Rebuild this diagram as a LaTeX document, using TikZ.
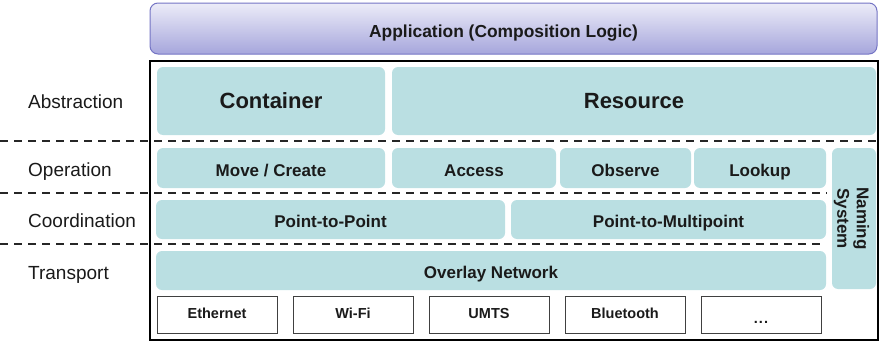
\documentclass[tikz,border=0pt]{standalone}
\usepackage{fontspec}
\setmainfont{Liberation Sans}
\usepackage{tikz}
\usetikzlibrary{positioning}
\definecolor{tealbox}{HTML}{BADFE2}
\definecolor{appedge}{HTML}{7474C4}
\definecolor{apptop}{HTML}{ECECF8}
\definecolor{appbot}{HTML}{A6A6DC}
\definecolor{ink}{HTML}{1A1A1A}

\tikzset{
    blk/.style={fill=tealbox, rounded corners=6pt, inner sep=0pt, text=ink,
        text height=16pt, text depth=0pt,
        font=\bfseries\fontsize{17}{19}\selectfont},
    bigblk/.style={blk, text height=14pt, font=\bfseries\fontsize{22}{24}\selectfont},
    phybox/.style={draw=black!75, line width=0.8pt, inner sep=0pt, text=ink,
        minimum width=120pt, minimum height=37pt, text height=8pt, text depth=0pt,
        font=\bfseries\fontsize{14.5}{16}\selectfont},
    rowlabel/.style={anchor=base west, inner sep=0pt, text=ink,
        font=\fontsize{19}{21}\selectfont},
    sep/.style={black!85, line width=1.5pt, dash pattern=on 8pt off 6pt}
}

\begin{document}
\begin{tikzpicture}[x=1pt,y=-1pt]
    \useasboundingbox (0,0) rectangle (879,343);

    % Application layer on top
    \node[draw=appedge, line width=1pt, rounded corners=8pt, top color=apptop,
          bottom color=appbot, minimum width=727pt, minimum height=51pt,
          inner sep=0pt, text=ink, text height=17pt, text depth=0pt,
          font=\bfseries\fontsize{17.4}{19}\selectfont]
          (app) at (513.5,28.5) {Application (Composition Logic)\hspace*{20pt}};

    % Frame around the stack
    \draw[black, line width=2pt] (150,61) rectangle (878,340);

    % Layer separators
    \draw[sep] (0,141) -- (879,141);
    \draw[sep] (0,193) -- (827,193);
    \draw[sep] (0,244) -- (823,244);

    % Layer names
    \node[rowlabel] (labs)  at (28,108.5) {Abstraction};
    \node[rowlabel] (lop)   at (28,176) {Operation};
    \node[rowlabel] (lcoor) at (28,227) {Coordination};
    \node[rowlabel] (ltr)   at (28,279) {Transport};

    % Abstraction
    \node[bigblk, minimum width=228pt, minimum height=68pt] (container) at (271,101) {Container};
    \node[bigblk, minimum width=484pt, minimum height=68pt] (resource) at (634,101) {Resource};

    % Operation
    \node[blk, minimum width=228pt, minimum height=40pt] (move)    at (271,168) {Move / Create};
    \node[blk, minimum width=164pt, minimum height=40pt] (access)  at (474,168) {Access};
    \node[blk, minimum width=131pt, minimum height=40pt] (observe) at (625.5,168) {Observe};
    \node[blk, minimum width=132pt, minimum height=40pt] (lookup)  at (760,168) {Lookup};

    % Naming system (spans three rows)
    \node[blk, minimum width=44pt, minimum height=141pt] (naming) at (854,218.5) {};
    \node[rotate=-90, align=center, inner sep=0pt, text=ink,
          font=\bfseries\fontsize{17}{19.5}\selectfont] (namingtxt) at ([xshift=-2.5pt]naming.center) {Naming\\System};

    % Coordination
    \node[blk, minimum width=349pt, minimum height=39pt] (p2p)  at (330.5,219.5) {Point-to-Point};
    \node[blk, minimum width=315pt, minimum height=39pt] (p2mp) at (668.5,219.5) {Point-to-Multipoint};

    % Transport
    \node[blk, minimum width=670pt, minimum height=39pt] (overlay) at (491,270.5) {Overlay Network};

    % Link technologies
    \foreach \name [count=\i from 0] in {Ethernet,Wi-Fi,UMTS,Bluetooth}{
        \node[phybox] (phy\i) at (217+136*\i,314.5) {\name};
    }
    \node[phybox] (phy4) at (761,314.5) {\raisebox{-4.5pt}{.\kern1pt.\kern1pt.}};
\end{tikzpicture}
\end{document}
